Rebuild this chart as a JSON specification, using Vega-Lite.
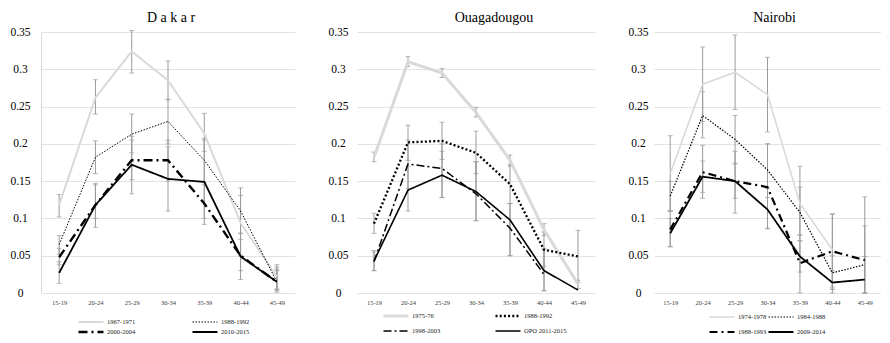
{
  "$schema": "https://vega.github.io/schema/vega-lite/v6.json",
  "padding": {"left": 9, "top": 11, "right": 0, "bottom": 0},
  "config": {
    "font": "Liberation Serif",
    "view": {"stroke": null},
    "title": {"font": "Liberation Serif", "fontSize": 14, "fontWeight": "normal", "color": "#000000", "offset": 1, "frame": "group"},
    "axisY": {"labelFont": "Liberation Serif", "labelOverlap": false},
    "axisX": {"labelFont": "Liberation Serif", "labelOverlap": false},
    "legend": {"orient": "none", "direction": "horizontal", "columns": 2, "title": null, "symbolType": "stroke", "symbolSize": 625, "labelFontSize": 6.5, "labelFont": "Liberation Serif", "labelColor": "#222222", "labelOffset": 2, "clipHeight": 8, "padding": 0}
  },
  "data": {"values": [
    {"city": "Dakar", "series": "1967-1971", "age": "15-19", "value": 0.118, "lo": 0.102, "hi": 0.132},
    {"city": "Dakar", "series": "1967-1971", "age": "20-24", "value": 0.262, "lo": 0.240, "hi": 0.286},
    {"city": "Dakar", "series": "1967-1971", "age": "25-29", "value": 0.324, "lo": 0.295, "hi": 0.352},
    {"city": "Dakar", "series": "1967-1971", "age": "30-34", "value": 0.285, "lo": 0.259, "hi": 0.311},
    {"city": "Dakar", "series": "1967-1971", "age": "35-39", "value": 0.214, "lo": 0.190, "hi": 0.241},
    {"city": "Dakar", "series": "1967-1971", "age": "40-44", "value": 0.094, "lo": 0.050, "hi": 0.141},
    {"city": "Dakar", "series": "1967-1971", "age": "45-49", "value": 0.022, "lo": 0.005, "hi": 0.038},
    {"city": "Dakar", "series": "1988-1992", "age": "15-19", "value": 0.065, "lo": 0.052, "hi": 0.077},
    {"city": "Dakar", "series": "1988-1992", "age": "20-24", "value": 0.182, "lo": 0.160, "hi": 0.204},
    {"city": "Dakar", "series": "1988-1992", "age": "25-29", "value": 0.213, "lo": 0.188, "hi": 0.240},
    {"city": "Dakar", "series": "1988-1992", "age": "30-34", "value": 0.230, "lo": 0.200, "hi": 0.260},
    {"city": "Dakar", "series": "1988-1992", "age": "35-39", "value": 0.178, "lo": 0.148, "hi": 0.207},
    {"city": "Dakar", "series": "1988-1992", "age": "40-44", "value": 0.110, "lo": 0.080, "hi": 0.131},
    {"city": "Dakar", "series": "1988-1992", "age": "45-49", "value": 0.015, "lo": 0.003, "hi": 0.035},
    {"city": "Dakar", "series": "2000-2004", "age": "15-19", "value": 0.048, "lo": 0.038, "hi": 0.060},
    {"city": "Dakar", "series": "2000-2004", "age": "20-24", "value": 0.118, "lo": 0.100, "hi": 0.145},
    {"city": "Dakar", "series": "2000-2004", "age": "25-29", "value": 0.178, "lo": 0.152, "hi": 0.205},
    {"city": "Dakar", "series": "2000-2004", "age": "30-34", "value": 0.178, "lo": 0.150, "hi": 0.205},
    {"city": "Dakar", "series": "2000-2004", "age": "35-39", "value": 0.120, "lo": 0.100, "hi": 0.145},
    {"city": "Dakar", "series": "2000-2004", "age": "40-44", "value": 0.050, "lo": 0.030, "hi": 0.072},
    {"city": "Dakar", "series": "2000-2004", "age": "45-49", "value": 0.015, "lo": 0.005, "hi": 0.030},
    {"city": "Dakar", "series": "2010-2015", "age": "15-19", "value": 0.027, "lo": 0.013, "hi": 0.042},
    {"city": "Dakar", "series": "2010-2015", "age": "20-24", "value": 0.118, "lo": 0.088, "hi": 0.147},
    {"city": "Dakar", "series": "2010-2015", "age": "25-29", "value": 0.172, "lo": 0.133, "hi": 0.210},
    {"city": "Dakar", "series": "2010-2015", "age": "30-34", "value": 0.153, "lo": 0.110, "hi": 0.196},
    {"city": "Dakar", "series": "2010-2015", "age": "35-39", "value": 0.149, "lo": 0.092, "hi": 0.205},
    {"city": "Dakar", "series": "2010-2015", "age": "40-44", "value": 0.049, "lo": 0.018, "hi": 0.080},
    {"city": "Dakar", "series": "2010-2015", "age": "45-49", "value": 0.015, "lo": 0.001, "hi": 0.032},
    {"city": "Ouagadougou", "series": "1975-76", "age": "15-19", "value": 0.182, "lo": 0.176, "hi": 0.189},
    {"city": "Ouagadougou", "series": "1975-76", "age": "20-24", "value": 0.310, "lo": 0.304, "hi": 0.317},
    {"city": "Ouagadougou", "series": "1975-76", "age": "25-29", "value": 0.295, "lo": 0.289, "hi": 0.301},
    {"city": "Ouagadougou", "series": "1975-76", "age": "30-34", "value": 0.242, "lo": 0.236, "hi": 0.249},
    {"city": "Ouagadougou", "series": "1975-76", "age": "35-39", "value": 0.178, "lo": 0.170, "hi": 0.185},
    {"city": "Ouagadougou", "series": "1975-76", "age": "40-44", "value": 0.085, "lo": 0.077, "hi": 0.093},
    {"city": "Ouagadougou", "series": "1975-76", "age": "45-49", "value": 0.012, "lo": 0.006, "hi": 0.017},
    {"city": "Ouagadougou", "series": "1988-1992", "age": "15-19", "value": 0.093, "lo": 0.080, "hi": 0.107},
    {"city": "Ouagadougou", "series": "1988-1992", "age": "20-24", "value": 0.202, "lo": 0.178, "hi": 0.225},
    {"city": "Ouagadougou", "series": "1988-1992", "age": "25-29", "value": 0.204, "lo": 0.179, "hi": 0.229},
    {"city": "Ouagadougou", "series": "1988-1992", "age": "30-34", "value": 0.188, "lo": 0.160, "hi": 0.217},
    {"city": "Ouagadougou", "series": "1988-1992", "age": "35-39", "value": 0.146, "lo": 0.120, "hi": 0.172},
    {"city": "Ouagadougou", "series": "1988-1992", "age": "40-44", "value": 0.058, "lo": 0.036, "hi": 0.082},
    {"city": "Ouagadougou", "series": "1988-1992", "age": "45-49", "value": 0.049, "lo": 0.014, "hi": 0.084},
    {"city": "Ouagadougou", "series": "1998-2003", "age": "15-19", "value": 0.042, "lo": 0.030, "hi": 0.055},
    {"city": "Ouagadougou", "series": "1998-2003", "age": "20-24", "value": 0.173, "lo": 0.140, "hi": 0.205},
    {"city": "Ouagadougou", "series": "1998-2003", "age": "25-29", "value": 0.167, "lo": 0.128, "hi": 0.200},
    {"city": "Ouagadougou", "series": "1998-2003", "age": "30-34", "value": 0.133, "lo": 0.097, "hi": 0.176},
    {"city": "Ouagadougou", "series": "1998-2003", "age": "35-39", "value": 0.087, "lo": 0.050, "hi": 0.120},
    {"city": "Ouagadougou", "series": "1998-2003", "age": "40-44", "value": 0.025, "lo": 0.003, "hi": 0.060},
    {"city": "Ouagadougou", "series": "OPO 2011-2015", "age": "15-19", "value": 0.043, "lo": 0.030, "hi": 0.057},
    {"city": "Ouagadougou", "series": "OPO 2011-2015", "age": "20-24", "value": 0.138, "lo": 0.110, "hi": 0.170},
    {"city": "Ouagadougou", "series": "OPO 2011-2015", "age": "25-29", "value": 0.158, "lo": 0.128, "hi": 0.190},
    {"city": "Ouagadougou", "series": "OPO 2011-2015", "age": "30-34", "value": 0.136, "lo": 0.097, "hi": 0.176},
    {"city": "Ouagadougou", "series": "OPO 2011-2015", "age": "35-39", "value": 0.098, "lo": 0.050, "hi": 0.120},
    {"city": "Ouagadougou", "series": "OPO 2011-2015", "age": "40-44", "value": 0.030, "lo": 0.003, "hi": 0.058},
    {"city": "Ouagadougou", "series": "OPO 2011-2015", "age": "45-49", "value": 0.004},
    {"city": "Nairobi", "series": "1974-1978", "age": "15-19", "value": 0.160, "lo": 0.110, "hi": 0.211},
    {"city": "Nairobi", "series": "1974-1978", "age": "20-24", "value": 0.280, "lo": 0.230, "hi": 0.330},
    {"city": "Nairobi", "series": "1974-1978", "age": "25-29", "value": 0.296, "lo": 0.246, "hi": 0.346},
    {"city": "Nairobi", "series": "1974-1978", "age": "30-34", "value": 0.266, "lo": 0.216, "hi": 0.316},
    {"city": "Nairobi", "series": "1974-1978", "age": "35-39", "value": 0.120, "lo": 0.070, "hi": 0.170},
    {"city": "Nairobi", "series": "1974-1978", "age": "40-44", "value": 0.058, "lo": 0.008, "hi": 0.106},
    {"city": "Nairobi", "series": "1984-1988", "age": "15-19", "value": 0.130, "lo": 0.110, "hi": 0.150},
    {"city": "Nairobi", "series": "1984-1988", "age": "20-24", "value": 0.238, "lo": 0.208, "hi": 0.270},
    {"city": "Nairobi", "series": "1984-1988", "age": "25-29", "value": 0.206, "lo": 0.174, "hi": 0.238},
    {"city": "Nairobi", "series": "1984-1988", "age": "30-34", "value": 0.165, "lo": 0.128, "hi": 0.200},
    {"city": "Nairobi", "series": "1984-1988", "age": "35-39", "value": 0.108, "lo": 0.078, "hi": 0.142},
    {"city": "Nairobi", "series": "1984-1988", "age": "40-44", "value": 0.027, "lo": 0.005, "hi": 0.050},
    {"city": "Nairobi", "series": "1984-1988", "age": "45-49", "value": 0.038, "lo": 0.000, "hi": 0.090},
    {"city": "Nairobi", "series": "1988-1993", "age": "15-19", "value": 0.085, "lo": 0.062, "hi": 0.110},
    {"city": "Nairobi", "series": "1988-1993", "age": "20-24", "value": 0.162, "lo": 0.135, "hi": 0.198},
    {"city": "Nairobi", "series": "1988-1993", "age": "25-29", "value": 0.150, "lo": 0.127, "hi": 0.173},
    {"city": "Nairobi", "series": "1988-1993", "age": "30-34", "value": 0.142, "lo": 0.087, "hi": 0.200},
    {"city": "Nairobi", "series": "1988-1993", "age": "35-39", "value": 0.040, "lo": 0.000, "hi": 0.078},
    {"city": "Nairobi", "series": "1988-1993", "age": "40-44", "value": 0.056, "lo": 0.005, "hi": 0.106},
    {"city": "Nairobi", "series": "1988-1993", "age": "45-49", "value": 0.044, "lo": 0.000, "hi": 0.129},
    {"city": "Nairobi", "series": "2009-2014", "age": "15-19", "value": 0.080, "lo": 0.062, "hi": 0.100},
    {"city": "Nairobi", "series": "2009-2014", "age": "20-24", "value": 0.156, "lo": 0.127, "hi": 0.177},
    {"city": "Nairobi", "series": "2009-2014", "age": "25-29", "value": 0.150, "lo": 0.107, "hi": 0.190},
    {"city": "Nairobi", "series": "2009-2014", "age": "30-34", "value": 0.112, "lo": 0.086, "hi": 0.140},
    {"city": "Nairobi", "series": "2009-2014", "age": "35-39", "value": 0.049, "lo": 0.028, "hi": 0.070},
    {"city": "Nairobi", "series": "2009-2014", "age": "40-44", "value": 0.014, "lo": 0.000, "hi": 0.030},
    {"city": "Nairobi", "series": "2009-2014", "age": "45-49", "value": 0.018, "lo": 0.000, "hi": 0.049}
  ]},
  "spacing": 32,
  "resolve": {
    "scale": {"color": "independent", "strokeDash": "independent", "strokeWidth": "independent"},
    "legend": {"color": "independent", "strokeDash": "independent", "strokeWidth": "independent"}
  },
  "hconcat": [
    {
      "width": 254, "height": 261,
      "title": {"text": "D a k a r", "dx": 3},
      "transform": [{"filter": "datum.city === 'Dakar'"}],
      "encoding": {
        "x": {"field": "age", "type": "ordinal", "scale": {"type": "point", "padding": 0.5},
              "axis": {"title": null, "labelAngle": 0, "labelFontSize": 6.5, "labelColor": "#404040", "ticks": false, "domain": false, "grid": false, "labelPadding": 6}},
        "y": {"type": "quantitative", "scale": {"domain": [0, 0.35], "nice": false},
              "axis": {"title": null, "values": [0, 0.05, 0.1, 0.15, 0.2, 0.25, 0.3, 0.35], "labelExpr": "'' + datum.value", "labelFontSize": 11.5, "labelColor": "#000000", "labelAlign": "center", "labelPadding": 21, "ticks": false, "domain": true, "domainColor": "#d9d9d9", "gridColor": "#e3e3e3"}}
      },
      "layer": [
        {
          "transform": [{"filter": "isValid(datum.lo)"}],
          "mark": {"type": "errorbar", "ticks": {"size": 5}, "color": "#9a9a9a", "thickness": 1},
          "encoding": {"y": {"field": "lo"}, "y2": {"field": "hi"}}
        },
        {
          "mark": {"type": "line"},
          "encoding": {
            "y": {"field": "value"},
            "color": {"field": "series", "type": "nominal", "scale": {"domain": ["1967-1971", "1988-1992", "2000-2004", "2010-2015"], "range": ["#d9d9d9", "#000000", "#000000", "#000000"]}, "legend": {"columnPadding": 55, "rowPadding": 2, "legendX": 36, "legendY": 286}},
            "strokeDash": {"field": "series", "type": "nominal", "scale": {"domain": ["1967-1971", "1988-1992", "2000-2004", "2010-2015"], "range": [[1, 0], [1.5, 1.5], [9, 4, 2, 4], [1, 0]]}, "legend": {"columnPadding": 55, "rowPadding": 2, "legendX": 36, "legendY": 286}},
            "strokeWidth": {"field": "series", "type": "nominal", "scale": {"type": "ordinal", "domain": ["1967-1971", "1988-1992", "2000-2004", "2010-2015"], "range": [2, 1, 2.4, 1.8]}, "legend": {"columnPadding": 55, "rowPadding": 2, "legendX": 36, "legendY": 286}}
          }
        }
      ]
    },
    {
      "width": 238, "height": 261,
      "title": {"text": "Ouagadougou", "dx": 18},
      "transform": [{"filter": "datum.city === 'Ouagadougou'"}],
      "encoding": {
        "x": {"field": "age", "type": "ordinal", "scale": {"type": "point", "padding": 0.5},
              "axis": {"title": null, "labelAngle": 0, "labelFontSize": 6.5, "labelColor": "#404040", "ticks": false, "domain": false, "grid": false, "labelPadding": 6}},
        "y": {"type": "quantitative", "scale": {"domain": [0, 0.35], "nice": false},
              "axis": {"title": null, "values": [0, 0.05, 0.1, 0.15, 0.2, 0.25, 0.3, 0.35], "labelExpr": "'' + datum.value", "labelFontSize": 11.5, "labelColor": "#000000", "labelAlign": "center", "labelPadding": 19, "ticks": false, "domain": false, "gridColor": "#e3e3e3"}}
      },
      "layer": [
        {
          "transform": [{"filter": "isValid(datum.lo)"}],
          "mark": {"type": "errorbar", "ticks": {"size": 5}, "color": "#9a9a9a", "thickness": 1},
          "encoding": {"y": {"field": "lo"}, "y2": {"field": "hi"}}
        },
        {
          "mark": {"type": "line"},
          "encoding": {
            "y": {"field": "value"},
            "color": {"field": "series", "type": "nominal", "scale": {"domain": ["1975-76", "1988-1992", "1998-2003", "OPO 2011-2015"], "range": ["#d9d9d9", "#000000", "#000000", "#000000"]}, "legend": {"columnPadding": 53, "rowPadding": 7, "legendX": 25, "legendY": 280}},
            "strokeDash": {"field": "series", "type": "nominal", "scale": {"domain": ["1975-76", "1988-1992", "1998-2003", "OPO 2011-2015"], "range": [[1, 0], [2, 2.2], [8, 3, 2, 3], [1, 0]]}, "legend": {"columnPadding": 53, "rowPadding": 7, "legendX": 25, "legendY": 280}},
            "strokeWidth": {"field": "series", "type": "nominal", "scale": {"type": "ordinal", "domain": ["1975-76", "1988-1992", "1998-2003", "OPO 2011-2015"], "range": [3, 2.3, 1.5, 1.6]}, "legend": {"columnPadding": 53, "rowPadding": 7, "legendX": 25, "legendY": 280}}
          }
        }
      ]
    },
    {
      "width": 227, "height": 261,
      "title": {"text": "Nairobi", "dx": 7},
      "transform": [{"filter": "datum.city === 'Nairobi'"}],
      "encoding": {
        "x": {"field": "age", "type": "ordinal", "scale": {"type": "point", "padding": 0.5},
              "axis": {"title": null, "labelAngle": 0, "labelFontSize": 6.5, "labelColor": "#404040", "ticks": false, "domain": false, "grid": false, "labelPadding": 6}},
        "y": {"type": "quantitative", "scale": {"domain": [0, 0.35], "nice": false},
              "axis": {"title": null, "values": [0, 0.05, 0.1, 0.15, 0.2, 0.25, 0.3, 0.35], "labelExpr": "'' + datum.value", "labelFontSize": 11.5, "labelColor": "#000000", "labelAlign": "center", "labelPadding": 16, "ticks": false, "domain": false, "gridColor": "#e3e3e3"}}
      },
      "layer": [
        {
          "transform": [{"filter": "isValid(datum.lo)"}],
          "mark": {"type": "errorbar", "ticks": {"size": 5}, "color": "#9a9a9a", "thickness": 1},
          "encoding": {"y": {"field": "lo"}, "y2": {"field": "hi"}}
        },
        {
          "mark": {"type": "line"},
          "encoding": {
            "y": {"field": "value"},
            "color": {"field": "series", "type": "nominal", "scale": {"domain": ["1974-1978", "1984-1988", "1988-1993", "2009-2014"], "range": ["#d9d9d9", "#000000", "#000000", "#000000"]}, "legend": {"columnPadding": -4, "rowPadding": 7, "legendX": 54, "legendY": 281}},
            "strokeDash": {"field": "series", "type": "nominal", "scale": {"domain": ["1974-1978", "1984-1988", "1988-1993", "2009-2014"], "range": [[1, 0], [1.5, 1.5], [8, 4, 2, 4], [1, 0]]}, "legend": {"columnPadding": -4, "rowPadding": 7, "legendX": 54, "legendY": 281}},
            "strokeWidth": {"field": "series", "type": "nominal", "scale": {"type": "ordinal", "domain": ["1974-1978", "1984-1988", "1988-1993", "2009-2014"], "range": [1.6, 1.2, 2.2, 1.8]}, "legend": {"columnPadding": -4, "rowPadding": 7, "legendX": 54, "legendY": 281}}
          }
        }
      ]
    }
  ]
}
